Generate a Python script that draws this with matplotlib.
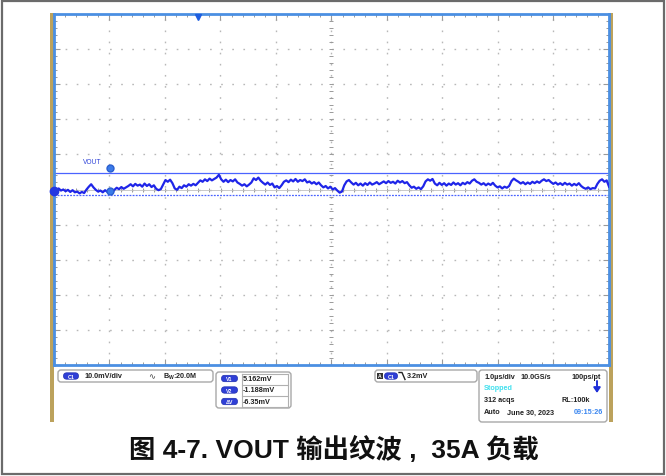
import matplotlib.pyplot as plt
import numpy as np
from matplotlib.patches import Rectangle, FancyBboxPatch

plt.rcParams['font.family'] = ['Liberation Sans', 'DejaVu Sans']

# scope settings
volts_per_div = 10.0      # mV/div
time_per_div = 1.0        # us/div
n_div = 10
screen_offset = 0.4       # mV, trace zero sits a bit below the centre line

# VOUT ripple trace, mV, sampled evenly across the 10 us screen
vout_mv = [
    0.6, 0.2, 0.7, 0.1, 0.4, -0.1, 0.3, -0.3, 0.2, -0.4,
    -0.2, -0.7, -0.3, -0.6, 0.4, 1.2, 1.9, 1.0, 0.3, -0.2,
    0.1, -0.4, 0.2, -0.3, 0.0, -0.5, 0.3, 0.9, 0.5, 1.1,
    0.6, 1.0, 1.4, 1.9, 1.3, 2.0, 1.5, 1.8, 1.2, 2.1,
    1.4, 1.9, 1.1, 1.6, 0.6, 0.2, 0.5, 1.8, 3.1, 2.6,
    3.2, 2.2, 0.7, 0.3, 1.2, 0.8, 1.6, 1.2, 1.9, 1.5,
    2.0, 1.6, 2.3, 3.0, 2.6, 3.3, 2.8, 3.5, 3.0, 3.4,
    3.8, 4.6, 3.3, 2.6, 3.2, 2.5, 3.1, 2.7, 3.3, 2.4,
    2.0, 1.5, 1.9, 1.3, 1.8, 2.4, 3.6, 3.1, 3.8, 2.9,
    2.3, 1.8, 2.4, 1.7, 2.1, 1.0, 1.4, 0.8, 1.6, 2.6,
    3.0, 2.5, 3.2, 2.7, 3.4, 2.6, 3.1, 2.8, 3.3, 2.4,
    2.7, 2.1, 2.5, 1.9, 2.4, 1.6, 1.0, 1.4, 0.7, 1.2,
    0.4, 0.8, 0.1, -0.5, -0.2, 1.6, 2.7, 3.1, 2.4, 1.8,
    2.3, 1.6, 2.1, 1.5, 2.2, 1.7, 2.4, 1.8, 2.1, 2.5,
    1.9, 2.3, 2.7, 2.2, 2.8, 2.3, 2.6, 2.1, 2.9, 2.4,
    2.8, 2.2, 2.5, 1.6, 0.9, 1.2, 0.6, 1.0, 0.5, 1.3,
    2.7, 3.3, 2.9, 3.4, 2.1, 1.6, 2.3, 1.7, 2.2, 1.5,
    2.1, 1.7, 2.4, 1.8, 2.2, 1.6, 2.3, 1.9, 2.5, 2.1,
    2.9, 3.3, 2.6, 2.3, 1.8, 2.2, 1.6, 2.1, 1.7, 2.3,
    1.5, 1.0, 1.3, 0.7, 1.2, 0.9, 1.4, 2.8, 3.5, 3.0,
    2.6, 2.1, 2.5, 1.9, 2.4, 2.0, 2.6, 2.2, 2.7, 2.3,
    2.9, 3.3, 2.8, 3.1, 2.5, 2.0, 2.4, 1.8, 2.2, 1.7,
    2.3, 1.8, 2.1, 1.5, 2.0, 1.6, 2.2, 1.4, 0.9, 0.6,
    1.0, 0.5, 0.8, 0.7, 2.0, 2.9, 3.3, 2.6, 3.0, 1.2,
]

# horizontal cursors
v1_mv = 5.162
v2_mv = -1.188
trig_level = '3.2mV'
trig_pos_us = -2.41

cursor_labels = ['V1', 'V2', 'ΔV']
cursor_values = ['5.162mV', '-1.188mV', '-6.35mV']

caption = '图 4-7. VOUT 输出纹波 ,  35A 负载'

W, H = 666, 477
fig = plt.figure(figsize=(W / 100, H / 100), dpi=100)

# pixel-space layer for the frame, side bars and readout panel
bg = fig.add_axes([0, 0, 1, 1], zorder=0)
bg.set_xlim(0, W)
bg.set_ylim(H, 0)
bg.axis('off')

bg.add_patch(Rectangle((1.5, 1.5), 662, 473, fill=False, ec='#6b6b6b', lw=1.6))
bg.add_patch(Rectangle((50, 14), 4, 409, color='#bca25c', lw=0))
bg.add_patch(Rectangle((609, 14), 4, 409, color='#bca25c', lw=0))

# scope graticule
x0, x1, y0, y1 = 54, 609, 15, 366
ax = fig.add_axes([x0 / W, 1 - y1 / H, (x1 - x0) / W, (y1 - y0) / H], zorder=1)
half_t = n_div / 2 * time_per_div
half_v = n_div / 2 * volts_per_div
ax.set_xlim(-half_t, half_t)
ax.set_ylim(-half_v + screen_offset, half_v + screen_offset)
for s in ax.spines.values():
    s.set_color('#4b8fe2')
    s.set_linewidth(2)

grid_t = np.arange(-half_t, half_t + 0.01, time_per_div)
grid_v = np.arange(-half_v, half_v + 0.01, volts_per_div) + screen_offset
dots = (0, (1.2, 6.8))
for t in grid_t[1:-1]:
    ax.axvline(t, color='#b8b8b8', lw=1.0, ls=dots, zorder=1)
for v in grid_v[1:-1]:
    ax.axhline(v, color='#b8b8b8', lw=1.0, ls=dots, zorder=1)

ax.set_xticks(grid_t)
ax.set_yticks(grid_v)
ax.set_xticks(np.arange(-half_t, half_t + 0.01, time_per_div / 5), minor=True)
ax.set_yticks(np.arange(-half_v, half_v + 0.01, volts_per_div / 5) + screen_offset, minor=True)
ax.tick_params(which='both', direction='in', top=True, right=True,
               labelbottom=False, labelleft=False, color='#9a9a9a')
ax.tick_params(which='major', length=4, width=0.8)
ax.tick_params(which='minor', length=2.5, width=0.7)

# ticks on the centre cross
mt = np.arange(-half_t, half_t + 0.01, time_per_div / 5)
mv = np.arange(-half_v, half_v + 0.01, volts_per_div / 5) + screen_offset
ax.plot(mt, np.full_like(mt, screen_offset), ls='none', marker='|', ms=3,
        color='#9a9a9a', mew=0.7, zorder=1)
ax.plot(np.zeros_like(mv), mv, ls='none', marker='_', ms=3,
        color='#9a9a9a', mew=0.7, zorder=1)
ax.axhline(screen_offset, color='#c0c0c0', lw=0.6, zorder=1)

# cursors
ax.axhline(v1_mv, color='#4a63ff', lw=0.9, zorder=2)
ax.axhline(v2_mv, color='#4a63ff', lw=0.9, ls=(0, (1.5, 1)), zorder=2)

t = np.linspace(-half_t, half_t, len(vout_mv))
ax.plot(t, vout_mv, color='#1f25e8', lw=1.6, zorder=3)

ax.text(-4.48, 8.3, 'VOUT', color='#2a3fd8', fontsize=4.8, va='center', ha='left')
ax.plot(-3.99, 6.55, 'o', ms=5, color='#3b7be8', mec='#2a5fd0', zorder=4)
ax.plot(-3.99, 0.0, 'o', ms=5, color='#3b7be8', mec='#2a5fd0', zorder=4)
ax.plot(-half_t, 0.0, 'o', ms=6, color='#2438e0', clip_on=False, zorder=5)
ax.plot(trig_pos_us, half_v + screen_offset - 0.8, 'v', ms=5, color='#1e5ee0',
        clip_on=False, zorder=5)

# readout panel
def box(xa, ya, xb, yb):
    bg.add_patch(FancyBboxPatch((xa, ya), xb - xa, yb - ya,
                                boxstyle='round,pad=0,rounding_size=3',
                                fc='white', ec='#a8a8a8', lw=1))


def pill(xc, yc, label, w=15):
    bg.add_patch(FancyBboxPatch((xc - w / 2, yc - 3.2), w, 6.4,
                                boxstyle='round,pad=0,rounding_size=3.2',
                                fc='#2f3fd6', ec='#2030b0', lw=0.5))
    bg.text(xc, yc + 0.2, label, color='white', fontsize=3.8, ha='center',
            va='center', weight='bold')


txt = dict(fontsize=5.2, weight='bold', va='center', color='#222222')

box(58, 371, 213, 383)
pill(71, 377, 'C1')
bg.text(84, 377, f'{volts_per_div:.1f}mV/div', **txt)
bg.text(148, 377, '∿', fontsize=6, va='center', color='#444444', family='DejaVu Sans')
bg.text(163, 377, r'B$_\mathregular{W}$:20.0M', **txt)

box(216, 373, 291, 409)
rows_y = [379.5, 391, 402.5]
bg.plot([241.5, 241.5], [374.5, 408], color='#b0b0b0', lw=0.8)
bg.plot([241.5, 288], [374.5, 374.5], color='#b0b0b0', lw=0.8)
for yy in [385.5, 396.8, 408]:
    bg.plot([241.5, 288], [yy, yy], color='#b0b0b0', lw=0.8)
bg.plot([288, 288], [374.5, 408], color='#b0b0b0', lw=0.8)
for yy, lab, val in zip(rows_y, cursor_labels, cursor_values):
    pill(229.5, yy, lab, w=16)
    bg.text(243, yy, val, **txt)

box(375, 371, 477, 383)
bg.add_patch(Rectangle((377, 373.5), 6, 6, fc='#333333', ec='none'))
bg.text(380, 376.7, 'A', color='white', fontsize=3.6, ha='center', va='center',
        weight='bold')
pill(391, 377, 'C1', w=13)
bg.plot([399, 402, 405], [373.5, 373.5, 380.5], color='#222222', lw=1)
bg.text(407, 377, trig_level, **txt)

box(479, 371, 607, 423)
bg.text(484, 377.5, f'{time_per_div:.1f}µs/div', **txt)
bg.text(520, 377.5, '10.0GS/s', **txt)
bg.text(601, 377.5, '100ps/pt', ha='right', **txt)
bg.text(484, 389, 'Stopped', fontsize=5.2, weight='bold', va='center', color='#3fe0ee')
bg.annotate('', xy=(597, 394), xytext=(597, 382),
            arrowprops=dict(arrowstyle='-|>,head_width=0.2,head_length=0.3',
                            color='#1e2fd8', lw=1.4, shrinkA=0, shrinkB=0))
bg.text(484, 401, '312 acqs', **txt)
bg.text(561, 401, 'RL:100k', **txt)
bg.text(484, 413, 'Auto', **txt)
bg.text(507, 413, 'June 30, 2023', **txt)
bg.text(603, 413, '09:15:26', fontsize=5.2, weight='bold', va='center',
        ha='right', color='#3a86f0')

bg.text(334, 449, caption, fontsize=19, weight='bold', ha='center', va='center',
        family=['Liberation Sans', 'Noto Sans CJK SC'], color='#111111')

fig.savefig('out.png', dpi=100)
